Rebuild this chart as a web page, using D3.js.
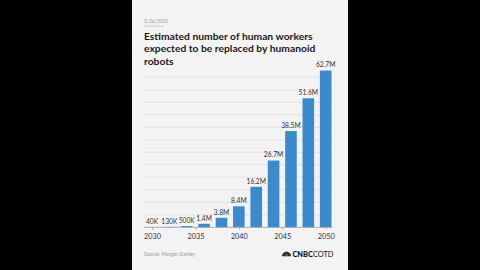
<!DOCTYPE html>
<html>
<head>
<meta charset="utf-8">
<script src="https://cdn.jsdelivr.net/npm/d3@7"></script>
<style>
html,body{margin:0;padding:0;background:#000;}
svg{display:block;}
</style>
</head>
<body>
<svg id="c" width="480" height="270"></svg>
<script>
const years = [2030, 2032, 2034, 2036, 2038, 2040, 2042, 2044, 2046, 2048, 2050];
const workersMillions = [0.04, 0.13, 0.5, 1.4, 3.8, 8.4, 16.2, 26.7, 38.5, 51.6, 62.7];
const valueLabels = ["40K", "130K", "500K", "1.4M", "3.8M", "8.4M", "16.2M", "26.7M", "38.5M", "51.6M", "62.7M"];
const xTickYears = [2030, 2035, 2040, 2045, 2050];
const gridValues = [5, 10, 15, 20, 25, 30, 35, 40, 45, 50, 55, 60];
const titleLines = ["Estimated number of human workers", "expected to be replaced by humanoid", "robots"];
const dateText = "3/26/2025";
const sourceText = "Source: Morgan Stanley";

const svg = d3.select("#c");
const font = "Lato, 'Open Sans', sans-serif";

// panel
svg.append("rect").attr("x", 132).attr("y", 0).attr("width", 216).attr("height", 270).attr("fill", "#f3f3f3");

const x = d3.scaleLinear().domain([2030, 2050]).range([152, 325.7]);
const y = d3.scaleLinear().domain([0, 60]).range([227.3, 77.3]);
const barW = 11.6;

// date
svg.append("text").attr("x", 144).attr("y", 23).attr("font-family", font).attr("font-size", 4.8)
  .attr("fill", "#9a9a9a").text(dateText);
svg.append("line").attr("x1", 144).attr("x2", 163.5).attr("y1", 26.2).attr("y2", 26.2)
  .attr("stroke", "#b9c8da").attr("stroke-width", 0.8);

// title
svg.append("g").selectAll("text").data(titleLines).join("text")
  .attr("x", 144).attr("y", (d, i) => 39.8 + i * 12.6)
  .attr("font-family", font).attr("font-weight", 700).attr("font-size", 10.3)
  .attr("fill", "#1a1a1a").text(d => d);

// grid
svg.append("g").selectAll("line").data(gridValues).join("line")
  .attr("x1", 144).attr("x2", 332).attr("y1", d => y(d)).attr("y2", d => y(d))
  .attr("stroke", "#dedede").attr("stroke-width", 0.8);

// bars
svg.append("g").selectAll("rect").data(years).join("rect")
  .attr("x", d => x(d) - barW / 2)
  .attr("y", (d, i) => y(workersMillions[i]))
  .attr("width", barW)
  .attr("height", (d, i) => y(0) - y(workersMillions[i]))
  .attr("fill", "#3c8acb");

// value labels
svg.append("g").selectAll("text").data(years).join("text")
  .attr("x", d => x(d))
  .attr("y", (d, i) => y(workersMillions[i]) - 3.2)
  .attr("text-anchor", "middle")
  .attr("font-family", font).attr("font-size", 6.7).attr("fill", "#333")
  .text((d, i) => valueLabels[i]);

// x axis
const axis = d3.axisBottom(x).tickValues(xTickYears).tickFormat(d3.format("d")).tickSize(2.5).tickPadding(4);
const ax = svg.append("g").attr("transform", `translate(0,${y(0)})`).call(axis);
ax.select(".domain").remove();
ax.append("line").attr("x1", 144).attr("x2", 332).attr("y1", 0).attr("y2", 0).attr("stroke", "#9a9a9a").attr("stroke-width", 0.8);
ax.selectAll(".tick line").attr("stroke", "#9a9a9a").attr("stroke-width", 0.7);
ax.selectAll(".tick text").attr("font-family", font).attr("font-size", 7.3).attr("fill", "#333");

// source
svg.append("text").attr("x", 144).attr("y", 255.5).attr("font-family", font).attr("font-size", 4.9)
  .attr("fill", "#9a9a9a").text(sourceText);

// logo: peacock fan
const logo = svg.append("g").attr("transform", "translate(286.5,254)");
const feathers = d3.range(6);
logo.selectAll("path").data(feathers).join("path")
  .attr("d", d => {
    const a = (-75 + d * 30) * Math.PI / 180;
    const r = 4.6, w = 0.28;
    const x1 = Math.sin(a - w) * r, y1 = -Math.cos(a - w) * r;
    const x2 = Math.sin(a + w) * r, y2 = -Math.cos(a + w) * r;
    return `M0,2.2 L${x1},${y1 + 2.2} L${x2},${y2 + 2.2} Z`;
  })
  .attr("fill", "#222");
const lt = svg.append("text").attr("x", 292.5).attr("y", 256.5).attr("font-family", font).attr("font-size", 7.4).attr("fill", "#111");
lt.append("tspan").attr("font-weight", 900).text("CNBC");
lt.append("tspan").attr("font-weight", 400).text("COTD");
</script>
</body>
</html>
